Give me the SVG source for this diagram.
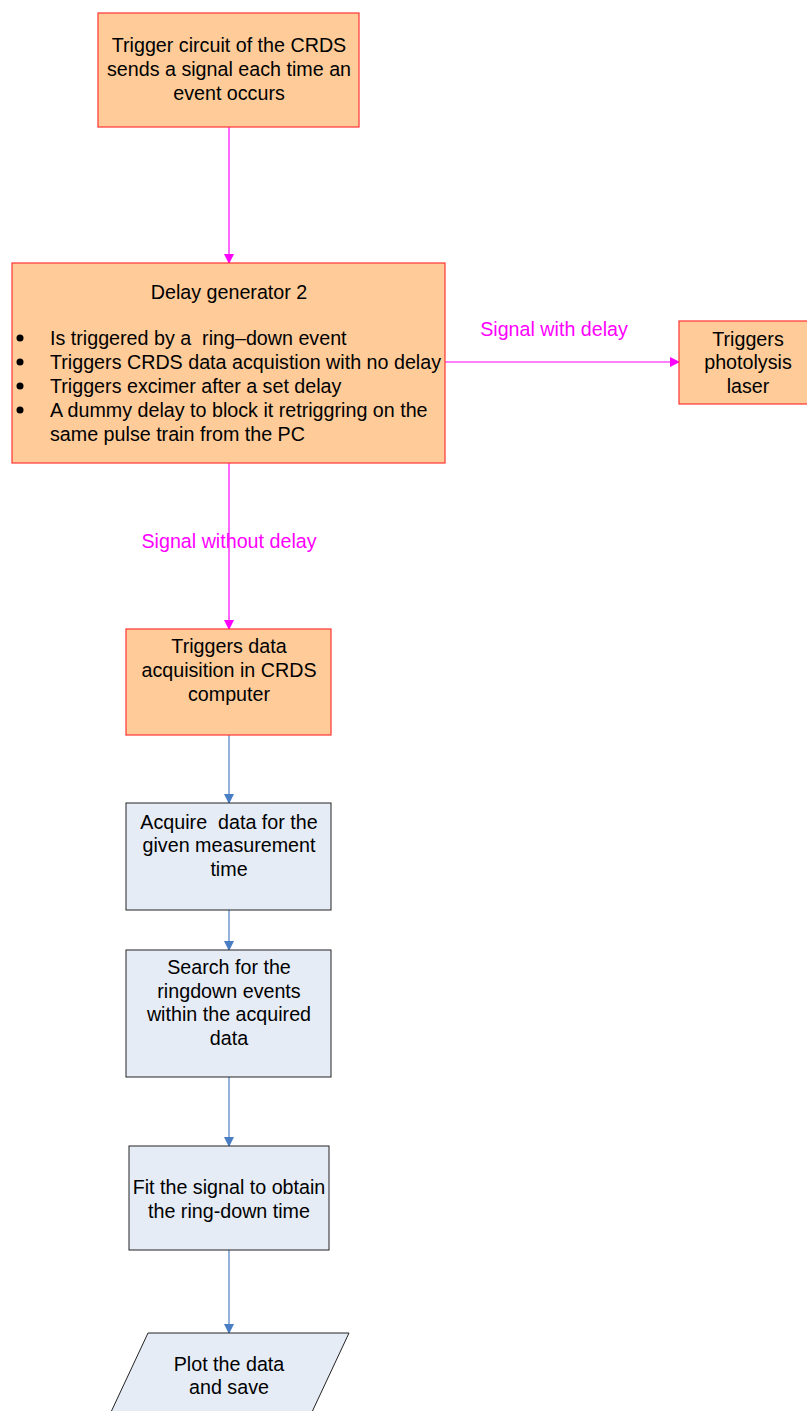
<svg xmlns="http://www.w3.org/2000/svg" width="807" height="1411" viewBox="0 0 807 1411">
  <defs>
    <marker id="arrMag" markerWidth="10" markerHeight="10" refX="9" refY="5" orient="auto" markerUnits="userSpaceOnUse">
      <path d="M0,0 L10,5 L0,10 Z" fill="#FF00FF"/>
    </marker>
    <marker id="arrBlue" markerWidth="10" markerHeight="10" refX="9" refY="5" orient="auto" markerUnits="userSpaceOnUse">
      <path d="M0,0 L10,5 L0,10 Z" fill="#4A7EC4"/>
    </marker>
  </defs>
  <style>
    text { font-family: "Liberation Sans", Arial, sans-serif; font-size: 19.7px; fill: #000; white-space: pre; }
    .c { text-anchor: middle; }
    .mag { fill: #FF00FF; }
    .dot { fill: #000; }
    .orange { fill: #FFCC99; stroke: #FF3333; stroke-width: 1.2; }
    .blue { fill: #E6ECF6; stroke: #222; stroke-width: 1; }
    .lm { stroke: #FF00FF; stroke-width: 1.2; fill: none; marker-end: url(#arrMag); }
    .lb { stroke: #4A7EC4; stroke-width: 1.2; fill: none; marker-end: url(#arrBlue); }
  </style>
  <rect width="807" height="1411" fill="#FFFFFF"/>

  <g id="connectors">
    <line class="lm" x1="229" y1="127" x2="229" y2="263"/>
    <line class="lm" x1="445" y1="362" x2="679" y2="362"/>
    <line class="lm" x1="229" y1="463" x2="229" y2="629"/>
    <line class="lb" x1="229" y1="735" x2="229" y2="803"/>
    <line class="lb" x1="229" y1="910" x2="229" y2="950"/>
    <line class="lb" x1="229" y1="1077" x2="229" y2="1146"/>
    <line class="lb" x1="229" y1="1250" x2="229" y2="1333"/>
    <text class="mag c" x="554" y="336">Signal with delay</text>
    <text class="mag c" x="229" y="548">Signal without delay</text>
  </g>

  <g id="trigger-circuit">
    <rect class="orange" x="98" y="13" width="261" height="114"/>
    <text class="c" x="229" y="52">Trigger circuit of the CRDS</text>
    <text class="c" x="229" y="76">sends a signal each time an</text>
    <text class="c" x="229" y="100">event occurs</text>
  </g>

  <g id="delay-generator">
    <rect class="orange" x="12" y="263" width="433" height="200"/>
    <text class="c" x="229" y="299">Delay generator 2</text>
    <circle class="dot" cx="20" cy="338" r="3.5"/>
    <text x="50" y="345">Is triggered by a  ring–down event</text>
    <circle class="dot" cx="20" cy="362" r="3.5"/>
    <text x="50" y="369">Triggers CRDS data acquistion with no delay</text>
    <circle class="dot" cx="20" cy="386" r="3.5"/>
    <text x="50" y="393">Triggers excimer after a set delay</text>
    <circle class="dot" cx="20" cy="410" r="3.5"/>
    <text x="50" y="417">A dummy delay to block it retriggring on the</text>
    <text x="50" y="441">same pulse train from the PC</text>
  </g>

  <g id="photolysis-laser">
    <rect class="orange" x="679" y="321" width="130" height="83"/>
    <text class="c" x="748" y="346">Triggers</text>
    <text class="c" x="748" y="369">photolysis</text>
    <text class="c" x="748" y="393">laser</text>
  </g>

  <g id="trigger-acquisition">
    <rect class="orange" x="126" y="629" width="205" height="106"/>
    <text class="c" x="229" y="653">Triggers data</text>
    <text class="c" x="229" y="677">acquisition in CRDS</text>
    <text class="c" x="229" y="701">computer</text>
  </g>

  <g id="acquire-data">
    <rect class="blue" x="126" y="803" width="205" height="107"/>
    <text class="c" x="229" y="829">Acquire  data for the</text>
    <text class="c" x="229" y="852">given measurement</text>
    <text class="c" x="229" y="876">time</text>
  </g>

  <g id="search-events">
    <rect class="blue" x="126" y="950" width="205" height="127"/>
    <text class="c" x="229" y="974">Search for the</text>
    <text class="c" x="229" y="998">ringdown events</text>
    <text class="c" x="229" y="1021">within the acquired</text>
    <text class="c" x="229" y="1045">data</text>
  </g>

  <g id="fit-signal">
    <rect class="blue" x="129" y="1146" width="200" height="104"/>
    <text class="c" x="229" y="1194">Fit the signal to obtain</text>
    <text class="c" x="229" y="1218">the ring-down time</text>
  </g>

  <g id="plot-save">
    <polygon class="blue" points="148,1333 349,1333 312,1412 111,1412"/>
    <text class="c" x="229" y="1371">Plot the data</text>
    <text class="c" x="229" y="1394">and save</text>
  </g>
</svg>
